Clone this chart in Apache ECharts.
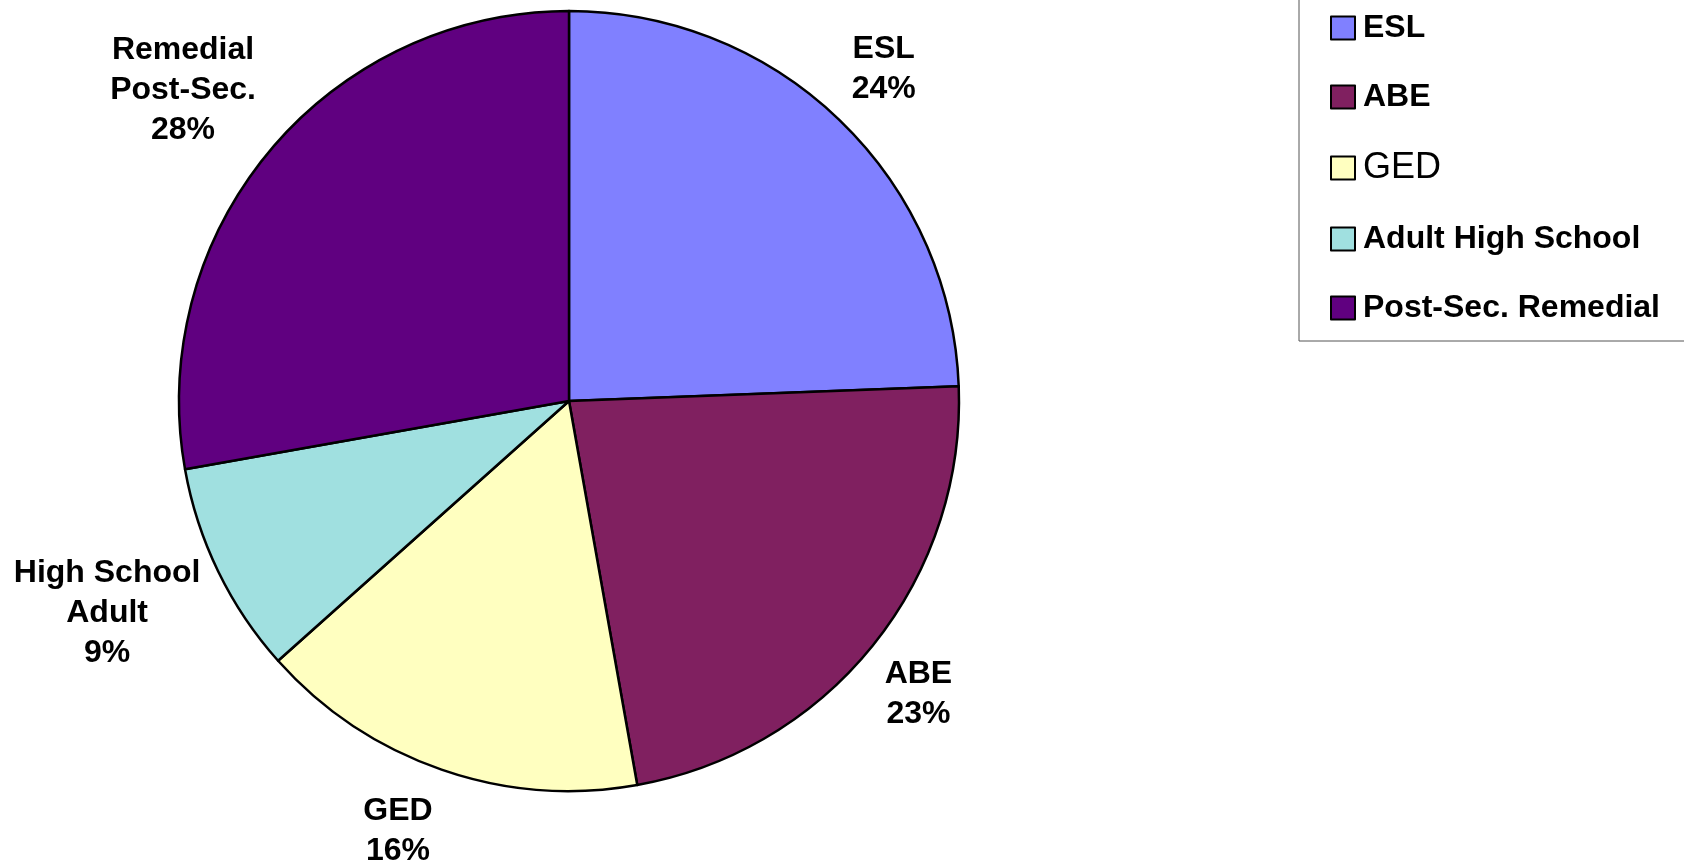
<!DOCTYPE html>
<html>
<head>
<meta charset="utf-8">
<script src="https://cdn.jsdelivr.net/npm/echarts@6/dist/echarts.min.js"></script>
<style>
html,body{margin:0;padding:0;background:#fff;}
#chart{width:1684px;height:866px;}
</style>
</head>
<body>
<div id="chart"></div>
<script>
// ---- data ----
const categories = ['ESL', 'ABE', 'GED', 'Adult High School', 'Post-Sec. Remedial'];
const sliceLabels = ['ESL', 'ABE', 'GED', 'High School\nAdult', 'Remedial\nPost-Sec.'];
const values = [24.4, 22.8, 16.2, 8.8, 27.8];

// ---- style ----
const colors = ['#8080FF', '#802060', '#FFFFC0', '#A0E0E0', '#600080'];
const labelGap = [68, 64, 72, 118, 107];
const labelNudge = [[-3, -2], [-4, 8], [-20, -6], [-5, -10], [-5, 8]];
const FONT = '"Liberation Sans", Arial, Helvetica, sans-serif';

const chart = echarts.init(document.getElementById('chart'), null, {renderer: 'canvas'});

const pieData = categories.map((c, i) => ({
  name: c,
  value: values[i],
  itemStyle: {color: colors[i]},
  labelLine: {length: labelGap[i], length2: 0}
}));

const legendData = categories.map(c => c === 'GED'
  ? {name: c, textStyle: {fontWeight: 'normal', fontSize: 36, lineHeight: 32}}
  : {name: c});

chart.setOption({
  animation: false,
  backgroundColor: '#ffffff',
  legend: {
    orient: 'vertical',
    left: 1299,
    top: -20,
    padding: [32, 30, 17, 31],
    itemWidth: 24,
    itemHeight: 23,
    itemGap: 37,
    borderColor: '#555555',
    borderWidth: 1,
    icon: 'rect',
    selectedMode: false,
    itemStyle: {borderColor: '#000', borderWidth: 2},
    textStyle: {
      fontFamily: FONT, fontSize: 32, fontWeight: 'bold', color: '#000',
      lineHeight: 32, padding: [0, 0, 0, 3]
    },
    data: legendData
  },
  series: [{
    type: 'pie',
    center: [569, 401],
    radius: 390,
    startAngle: 90,
    clockwise: true,
    avoidLabelOverlap: false,
    data: pieData,
    itemStyle: {borderColor: '#000', borderWidth: 2.5},
    emphasis: {disabled: true},
    label: {
      show: true,
      position: 'outside',
      distanceToLabelLine: 0,
      fontFamily: FONT,
      fontSize: 32,
      fontWeight: 'bold',
      color: '#000',
      lineHeight: 40,
      align: 'center',
      formatter: p => sliceLabels[p.dataIndex] + '\n' + Math.round(p.percent) + '%'
    },
    labelLine: {show: false, length2: 0},
    labelLayout: function (params) {
      const n = labelNudge[params.dataIndex];
      return {align: 'center', verticalAlign: 'middle', dx: n[0], dy: n[1]};
    }
  }]
});
</script>
</body>
</html>
